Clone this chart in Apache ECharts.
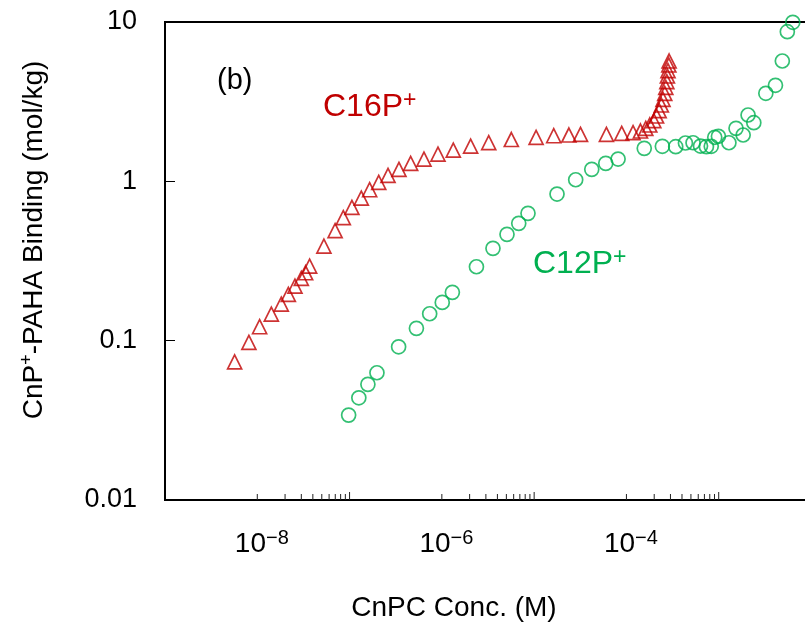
<!DOCTYPE html>
<html>
<head>
<meta charset="utf-8">
<style>
  html, body { margin: 0; padding: 0; background: #fff; }
  #chart { width: 805px; height: 626px; }
</style>
<script src="https://cdn.jsdelivr.net/npm/echarts@6/dist/echarts.min.js"></script>
</head>
<body>
<div id="chart"></div>
<script>
// CnPC concentration (M) and binding (mol/kg) for the C16 pyridinium series
const c16Conc = [
  5.68e-9, 8.11e-9, 1.06e-8, 1.42e-8, 1.82e-8, 2.17e-8, 2.56e-8, 3.00e-8, 3.34e-8, 3.69e-8,
  5.27e-8, 6.97e-8, 8.55e-8, 1.06e-7, 1.34e-7, 1.65e-7, 2.07e-7, 2.61e-7, 3.43e-7, 4.59e-7,
  6.40e-7, 9.08e-7, 1.33e-6, 2.05e-6, 3.22e-6, 5.66e-6, 1.05e-5, 1.63e-5, 2.38e-5, 3.18e-5,
  6.07e-5, 8.89e-5, 1.18e-4, 1.42e-4, 1.62e-4, 1.79e-4, 1.98e-4, 2.12e-4, 2.26e-4, 2.39e-4,
  2.49e-4, 2.60e-4, 2.67e-4, 2.74e-4, 2.78e-4, 2.82e-4, 2.88e-4, 2.90e-4
];
const c16Binding = [
  0.0737, 0.0976, 0.1223, 0.1469, 0.1698, 0.1953, 0.2202, 0.246, 0.2668, 0.2939,
  0.3925, 0.491, 0.5926, 0.6868, 0.7855, 0.8857, 0.9856, 1.091, 1.189, 1.297,
  1.380, 1.483, 1.572, 1.665, 1.752, 1.83, 1.889, 1.933, 1.953, 1.972,
  1.972, 2.001, 2.019, 2.069, 2.151, 2.257, 2.401, 2.570, 2.775, 3.013,
  3.272, 3.568, 3.891, 4.219, 4.581, 4.947, 5.37, 5.69
];

// Same quantities for the C12 pyridinium series
const c12Conc = [
  9.77e-8, 1.26e-7, 1.58e-7, 1.98e-7, 3.40e-7, 5.30e-7, 7.38e-7, 1.01e-6, 1.30e-6, 2.37e-6,
  3.58e-6, 5.08e-6, 6.81e-6, 8.58e-6, 1.77e-5, 2.82e-5, 4.21e-5, 5.97e-5, 8.12e-5, 1.56e-4,
  2.45e-4, 3.42e-4, 4.36e-4, 5.27e-4, 6.35e-4, 7.36e-4, 8.30e-4, 9.06e-4, 9.93e-4, 1.29e-3,
  1.54e-3, 1.84e-3, 2.08e-3, 2.40e-3, 3.24e-3, 4.12e-3, 4.89e-3, 5.54e-3, 6.35e-3
];
const c12Binding = [
  0.0341, 0.0438, 0.0532, 0.0629, 0.0915, 0.1195, 0.1475, 0.1739, 0.201, 0.2910,
  0.3797, 0.4649, 0.5448, 0.6296, 0.8324, 1.023, 1.189, 1.297, 1.380, 1.611,
  1.659, 1.649, 1.740, 1.747, 1.665, 1.649, 1.659, 1.889, 1.917, 1.747,
  2.151, 1.953, 2.608, 2.333, 3.568, 4.006, 5.69, 8.69, 9.96
];

// Axis ranges and labelled decades
const xRange = [1e-9, 1e-2];
const yRange = [0.01, 10];
const xLabelExponents = [-8, -6, -4];
const yTickLabels = ['0.01', '0.1', '1', '10'];
// Decades that carry the 1..9 minor tick marks on the x axis
const minorTickDecades = [-8, -6, -4];

const RED = '#c00000';
const GREEN = '#00b050';
const FONT = '"Liberation Sans", Arial, sans-serif';

const minorTicks = [];
const decadeEndTicks = [];
minorTickDecades.forEach(function (d) {
  for (let k = 1; k <= 9; k++) minorTicks.push([k * Math.pow(10, d), yRange[0]]);
  decadeEndTicks.push([Math.pow(10, d + 1), yRange[0]]);
});

function zip(xs, ys) { return xs.map(function (x, i) { return [x, ys[i]]; }); }

function tickSeries(data, len) {
  return {
    type: 'custom',
    coordinateSystem: 'cartesian2d',
    silent: true,
    clip: false,
    z: 3,
    data: data,
    renderItem: function (params, api) {
      const p = api.coord([api.value(0), api.value(1)]);
      return {
        type: 'line',
        shape: { x1: p[0], y1: p[1], x2: p[0], y2: p[1] - len },
        style: { stroke: '#222', lineWidth: 1 }
      };
    }
  };
}

const chart = echarts.init(document.getElementById('chart'), null, { renderer: 'canvas' });

chart.setOption({
  backgroundColor: '#fff',
  animation: false,
  grid: {
    left: 165, top: 22, width: 646, bottom: 126,
    outerBoundsMode: 'none',
    containLabel: false,
    show: true, borderColor: '#000', borderWidth: 2, backgroundColor: 'transparent'
  },
  xAxis: {
    type: 'log', logBase: 10, min: xRange[0], max: xRange[1], splitNumber: 7,
    axisLine: { lineStyle: { color: '#000', width: 2 } },
    axisTick: { show: false },
    splitLine: { show: false },
    axisLabel: {
      margin: 28,
      padding: [0, 0, 0, 9],
      fontFamily: FONT,
      color: '#000',
      formatter: function (v) {
        const e = Math.round(Math.log10(v));
        return xLabelExponents.indexOf(e) >= 0 ? '{b|10}{s|\u2212' + Math.abs(e) + '}' : '';
      },
      rich: {
        b: { fontSize: 28, fontFamily: FONT, color: '#000', verticalAlign: 'bottom', lineHeight: 30 },
        s: { fontSize: 20, fontFamily: FONT, color: '#000', verticalAlign: 'top', lineHeight: 30 }
      }
    }
  },
  yAxis: {
    type: 'log', logBase: 10, min: yRange[0], max: yRange[1], splitNumber: 3,
    axisLine: { lineStyle: { color: '#000', width: 2 } },
    axisTick: { inside: true, length: 10, lineStyle: { color: '#000', width: 1 } },
    splitLine: { show: false },
    axisLabel: {
      margin: 28,
      fontSize: 27,
      fontFamily: FONT,
      color: '#000',
      formatter: function (v) {
        const e = Math.round(Math.log10(v));
        return yTickLabels[e + 2] || '';
      }
    }
  },
  series: [
    {
      name: 'C16P+',
      type: 'scatter',
      clip: false,
      symbol: 'triangle',
      symbolSize: 14,
      itemStyle: { color: 'rgba(0,0,0,0)', borderColor: RED, borderWidth: 1.7 },
      data: zip(c16Conc, c16Binding),
      z: 4
    },
    {
      name: 'C12P+',
      type: 'scatter',
      clip: false,
      symbol: 'circle',
      symbolSize: 14,
      itemStyle: { color: 'rgba(0,0,0,0)', borderColor: GREEN, borderWidth: 1.7 },
      data: zip(c12Conc, c12Binding),
      z: 4
    },
    tickSeries(minorTicks, 6),
    tickSeries(decadeEndTicks, 8)
  ],
  graphic: [
    {
      type: 'text', x: 217, y: 81,
      style: { text: '(b)', font: '29px ' + FONT, fill: '#000', verticalAlign: 'middle' }
    },
    {
      type: 'text', x: 323, y: 106,
      style: {
        text: '{m|C16P}{s|+}', verticalAlign: 'middle',
        rich: {
          m: { fontSize: 32, fontFamily: FONT, fill: RED, verticalAlign: 'bottom', lineHeight: 34 },
          s: { fontSize: 23, fontFamily: FONT, fill: RED, verticalAlign: 'top', lineHeight: 34 }
        }
      }
    },
    {
      type: 'text', x: 533, y: 263,
      style: {
        text: '{m|C12P}{s|+}', verticalAlign: 'middle',
        rich: {
          m: { fontSize: 32, fontFamily: FONT, fill: GREEN, verticalAlign: 'bottom', lineHeight: 34 },
          s: { fontSize: 23, fontFamily: FONT, fill: GREEN, verticalAlign: 'top', lineHeight: 34 }
        }
      }
    },
    {
      type: 'text', x: 454, y: 608,
      style: { text: 'CnPC Conc. (M)', font: '28px ' + FONT, fill: '#000', align: 'center', verticalAlign: 'middle' }
    },
    {
      type: 'text', x: 33, y: 240, rotation: Math.PI / 2,
      style: {
        text: '{m|CnP}{s|+}{m|-PAHA Binding (mol/kg)}', align: 'center', verticalAlign: 'middle',
        rich: {
          m: { fontSize: 28, fontFamily: FONT, fill: '#000', verticalAlign: 'bottom', lineHeight: 30 },
          s: { fontSize: 18, fontFamily: FONT, fill: '#000', verticalAlign: 'top', lineHeight: 30 }
        }
      }
    }
  ]
});
</script>
</body>
</html>
